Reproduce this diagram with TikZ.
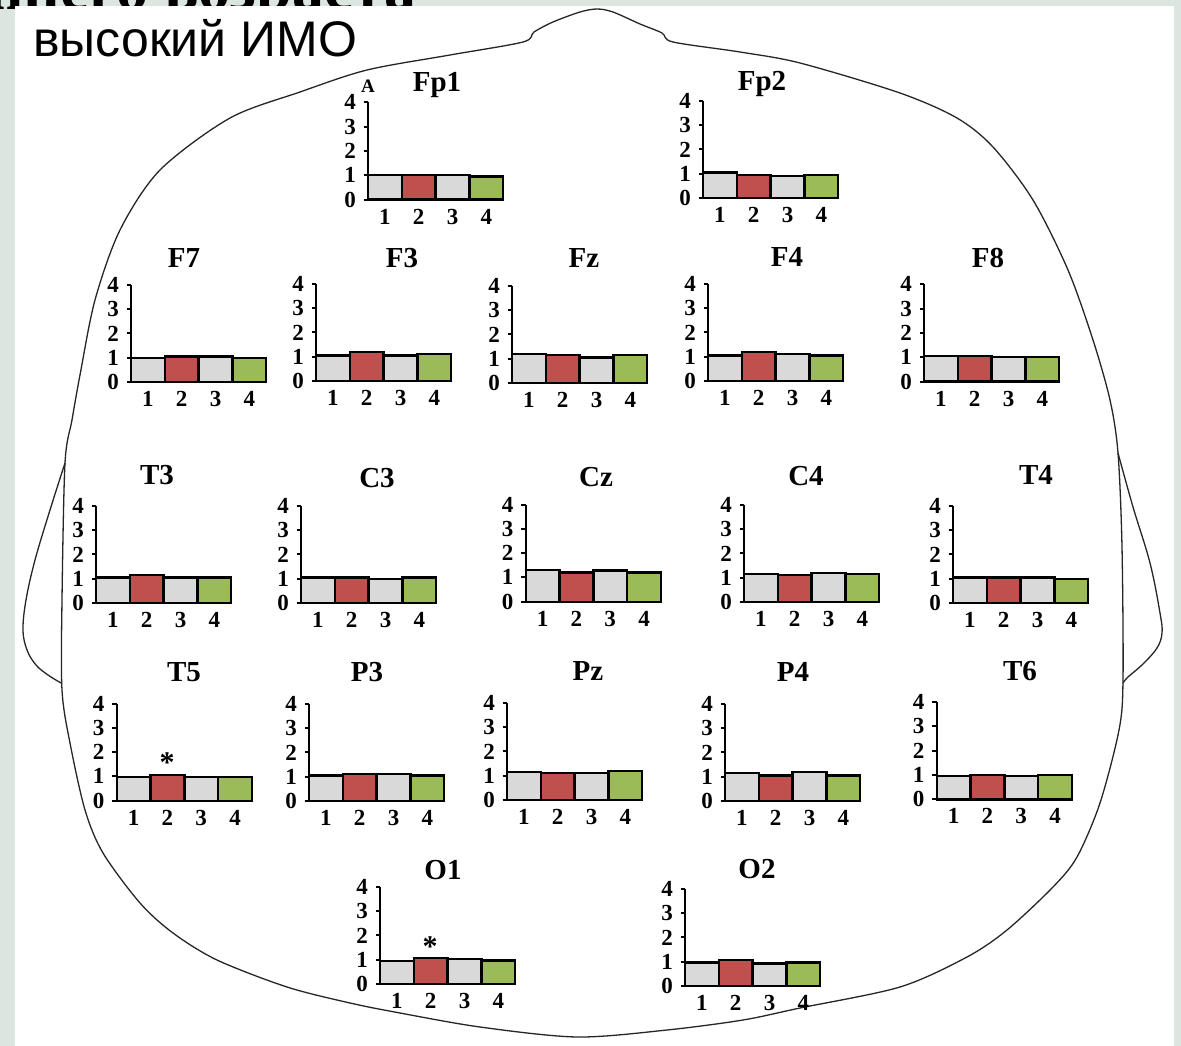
\documentclass[tikz,border=0pt]{standalone}
\usepackage{fontspec}
\setmainfont{Liberation Serif}
\newfontfamily\capsans{Liberation Sans}
\definecolor{bggreen}{HTML}{DCE6E0}
\definecolor{bargrey}{HTML}{D9D9D9}
\definecolor{barred}{HTML}{C0504D}
\definecolor{bargreen}{HTML}{9BBB59}
\newcommand\yunit{24.3}
\newcommand\barw{33.8}
\tikzset{
  axisline/.style={line width=2pt, black},
  barbox/.style={line width=2.4pt, draw=black},
  ylab/.style={font=\fontsize{23}{23}\selectfont\bfseries, inner sep=0pt, anchor=center},
  xlab/.style={font=\fontsize{23}{23}\selectfont\bfseries, inner sep=0pt, anchor=center},
  ttl/.style={font=\fontsize{29}{29}\selectfont\bfseries, inner sep=0pt, anchor=base},
  starmark/.style={font=\fontsize{30}{30}\selectfont\bfseries, inner sep=0pt, anchor=base},
  headline/.style={line width=1.3pt, black!85, line join=round},
}
% #1 id, #2 origin, #3 title base, #4 title, #5-#8 values
\newcommand\eegplot[8]{%
  \begin{scope}[shift={(#2)}]
    \foreach \k in {0,...,4}{
      \draw[axisline] (-4.5,-\k*\yunit) -- (0,-\k*\yunit);
      \node[ylab] (#1-y\k) at (-18,-\k*\yunit) {\k};
    }
    \draw[barbox, fill=bargrey] (0,0) rectangle (\barw,-#5*\yunit);
    \draw[barbox, fill=barred] (\barw,0) rectangle (2*\barw,-#6*\yunit);
    \draw[barbox, fill=bargrey] (2*\barw,0) rectangle (3*\barw,-#7*\yunit);
    \draw[barbox, fill=bargreen] (3*\barw,0) rectangle (4*\barw,-#8*\yunit);
    \draw[axisline] (0,-4*\yunit) -- (0,0) -- (4*\barw,0);
    \foreach \k in {1,...,4}{
      \node[xlab] (#1-x\k) at ({(\k-0.5)*\barw},17) {\k};
    }
  \end{scope}
  \node[ttl] (#1-t) at (#3) {#4};
}
\begin{document}
\begin{tikzpicture}[x=1pt,y=-1pt]
\useasboundingbox (0,0) rectangle (1181,1046);
\fill[bggreen] (0,0) rectangle (1181,1046);
\node[anchor=base east, inner sep=0pt, text depth=0pt, font=\fontsize{64}{64}\selectfont\bfseries] (heading) at (417,10) {раннего возраста};
\fill[white] (15,6) rectangle (1174,1046);
\node[anchor=base west, inner sep=0pt, font=\capsans\fontsize{50}{50}\selectfont] (subhead) at (33,57) {высокий ИМО};

% head outline
\draw[headline] plot[smooth cycle, tension=0.5] coordinates {
 (597,9) (613,12) (640,24) (662,33) (673,42) (740,52) (800,63) (900,93) (957,118) (993,147)
 (1033,200) (1068,270) (1093,340) (1110,400) (1118,453) (1122,547) (1123,680) (1119,730)
 (1100,803) (1077,857) (1053,887) (1007,930) (967,957) (900,987) (800,1008) (743,1020)
 (667,1030) (577,1037) (480,1027) (400,1013) (350,1003) (287,987) (217,960) (173,933)
 (140,903) (103,853) (85,810) (70,743) (62,690) (62,600) (65,463) (72,420) (80,375)
 (95,300) (120,230) (160,170) (230,118) (300,92) (367,70) (450,55) (523,42) (534,32)
 (553,22) (580,12)};
% ears
\draw[headline] plot[smooth, tension=0.6] coordinates {
 (65,463) (50,510) (35,560) (26,600) (23,630) (27,650) (36,665) (48,675) (61,683)};
\draw[headline] plot[smooth, tension=0.6] coordinates {
 (1118,453) (1133,507) (1150,563) (1160,613) (1162,633) (1157,648) (1143,664) (1128,677) (1123,683)};

% charts
\eegplot{Fp1}{368,199.5}{437,92}{Fp1}{1.0}{1.0}{1.0}{0.95}
\node[inner sep=0pt, font=\fontsize{19}{19}\selectfont\bfseries] (Fp1-A) at (368,86) {A};
\eegplot{Fp2}{703,198}{762,91}{Fp2}{1.05}{0.95}{0.9}{0.95}

\eegplot{F7}{131,382}{184,267}{F7}{1.0}{1.05}{1.05}{1.0}
\eegplot{F3}{316,381}{402,267}{F3}{1.05}{1.2}{1.05}{1.1}
\eegplot{Fz}{512,383}{584,267}{Fz}{1.2}{1.15}{1.05}{1.15}
\eegplot{F4}{708,381}{787,266}{F4}{1.05}{1.2}{1.1}{1.05}
\eegplot{F8}{924,381.5}{988,267}{F8}{1.05}{1.05}{1.0}{1.0}

\eegplot{T3}{96,603}{157,484}{T3}{1.05}{1.15}{1.05}{1.05}
\eegplot{C3}{301,603}{377,487}{C3}{1.05}{1.05}{1.0}{1.05}
\eegplot{Cz}{525.7,601.7}{596,486}{Cz}{1.3}{1.2}{1.28}{1.2}
\eegplot{C4}{744,602}{806,485}{C4}{1.15}{1.1}{1.2}{1.15}
\eegplot{T4}{953,603}{1036,484}{T4}{1.05}{1.05}{1.05}{1.0}

\eegplot{T5}{116.7,800.7}{184,681.5}{T5}{0.97}{1.06}{0.97}{0.97}
\node[starmark] (T5-s) at (167,772) {*};
\eegplot{P3}{309,801}{367,681}{P3}{1.05}{1.1}{1.1}{1.05}
\eegplot{Pz}{507,800}{588,680}{Pz}{1.15}{1.1}{1.1}{1.2}
\eegplot{P4}{725,801}{793,681}{P4}{1.15}{1.05}{1.2}{1.05}
\eegplot{T6}{936.7,799.3}{1020,680}{T6}{0.96}{1.01}{0.96}{1.01}

\eegplot{O1}{380,984}{443,879}{O1}{0.95}{1.06}{1.02}{0.96}
\node[starmark] (O1-s) at (430,956) {*};
\eegplot{O2}{685,986}{757,878}{O2}{0.96}{1.07}{0.93}{0.96}
\end{tikzpicture}
\end{document}
